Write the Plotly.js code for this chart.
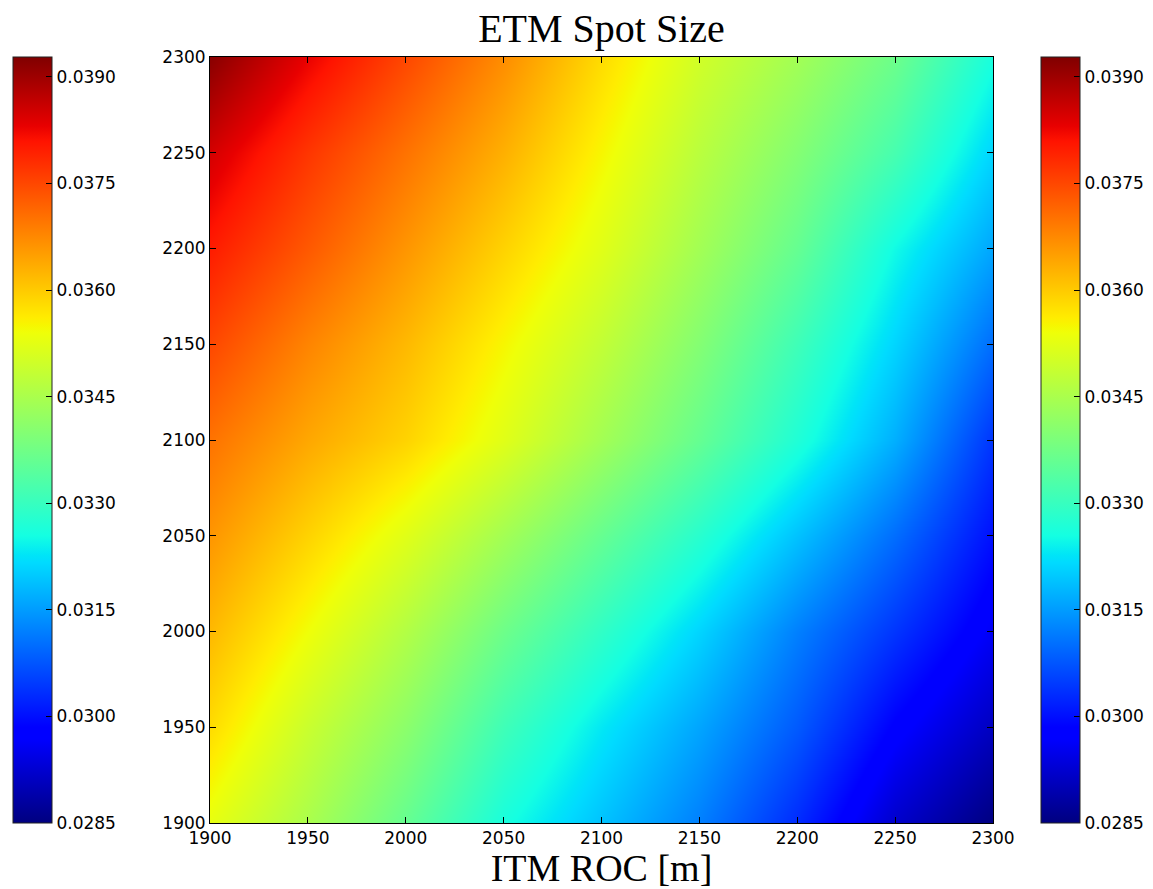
<!DOCTYPE html>
<html>
<head>
<meta charset="utf-8">
<script src="https://cdn.plot.ly/plotly-3.0.1.min.js"></script>
<style>
  html, body { margin: 0; padding: 0; background: #ffffff; }
  #chart { width: 1153px; height: 889px; }
</style>
</head>
<body>
<div id="chart"></div>
<script>
// ITM radius of curvature (x) and ETM radius of curvature (y), metres
const itmRoc = [1900, 1950, 2000, 2050, 2100, 2150, 2200, 2250, 2300];
const etmRoc = [1900, 1950, 2000, 2050, 2100, 2150, 2200, 2250, 2300];

// ETM spot size [m], one row per ETM ROC value (bottom to top), columns follow itmRoc
const spotEtm1900 = [0.0353, 0.0345, 0.0336, 0.0326, 0.0319, 0.0312, 0.0303, 0.0292, 0.0285];
const spotEtm1950 = [0.0358, 0.0349, 0.0341, 0.0331, 0.0323, 0.0316, 0.0308, 0.0298, 0.0291];
const spotEtm2000 = [0.0362, 0.0354, 0.0346, 0.0337, 0.0329, 0.0321, 0.0312, 0.0304, 0.0296];
const spotEtm2050 = [0.0366, 0.0359, 0.0352, 0.0344, 0.0336, 0.0328, 0.0319, 0.0310, 0.0300];
const spotEtm2100 = [0.0370, 0.0364, 0.0359, 0.0352, 0.0344, 0.0336, 0.0327, 0.0317, 0.0304];
const spotEtm2150 = [0.0375, 0.0368, 0.0362, 0.0355, 0.0348, 0.0340, 0.0331, 0.0321, 0.0310];
const spotEtm2200 = [0.0380, 0.0373, 0.0366, 0.0359, 0.0352, 0.0344, 0.0336, 0.0325, 0.0316];
const spotEtm2250 = [0.0385, 0.0377, 0.0370, 0.0363, 0.0355, 0.0347, 0.0340, 0.0332, 0.0321];
const spotEtm2300 = [0.0392, 0.0383, 0.0375, 0.0367, 0.0358, 0.0350, 0.0344, 0.0337, 0.0326];

// colour bar ticks and limits
const cbTicks = [0.0285, 0.0300, 0.0315, 0.0330, 0.0345, 0.0360, 0.0375, 0.0390];
const cbMin = 0.0285;
const cbMax = 0.03928;

const zGrid = [spotEtm1900, spotEtm1950, spotEtm2000, spotEtm2050, spotEtm2100,
               spotEtm2150, spotEtm2200, spotEtm2250, spotEtm2300];

// matplotlib "jet"
const jet = [
  [0.000, 'rgb(0,0,128)'],
  [0.110, 'rgb(0,0,255)'],
  [0.125, 'rgb(0,0,255)'],
  [0.340, 'rgb(0,219,255)'],
  [0.350, 'rgb(0,229,247)'],
  [0.375, 'rgb(20,255,226)'],
  [0.640, 'rgb(239,255,8)'],
  [0.650, 'rgb(247,246,0)'],
  [0.660, 'rgb(255,236,0)'],
  [0.890, 'rgb(255,19,0)'],
  [0.910, 'rgb(232,0,0)'],
  [1.000, 'rgb(128,0,0)']
];

const tickFont = { family: 'DejaVu Sans, sans-serif', size: 17, color: '#000000' };
const titleFont = { family: 'Liberation Serif, serif', size: 40, color: '#000000' };
const xTitleFont = { family: 'Liberation Serif, serif', size: 38, color: '#000000' };

function colorbarAt(xPos) {
  return {
    x: xPos, xanchor: 'left', xref: 'paper',
    y: 0.5, yanchor: 'middle', len: 1.0, lenmode: 'fraction',
    thickness: 39, thicknessmode: 'pixels',
    xpad: 0, ypad: 0,
    outlinecolor: '#222222', outlinewidth: 1,
    tickmode: 'array', tickvals: cbTicks,
    ticktext: cbTicks.map(v => v.toFixed(4)),
    ticks: 'inside', ticklen: 6, tickcolor: '#000000', tickwidth: 1,
    tickfont: tickFont
  };
}

const traceLeft = {
  type: 'heatmap', x: itmRoc, y: etmRoc, z: zGrid,
  zmin: cbMin, zmax: cbMax, colorscale: jet, zsmooth: 'best',
  showscale: true, colorbar: colorbarAt(-0.2516), hoverinfo: 'skip'
};
const traceMain = {
  type: 'heatmap', x: itmRoc, y: etmRoc, z: zGrid,
  zmin: cbMin, zmax: cbMax, colorscale: jet, zsmooth: 'best',
  showscale: true, colorbar: colorbarAt(1.0613)
};

const axisCommon = {
  showline: true, linecolor: '#000000', linewidth: 1, mirror: 'ticks',
  ticks: 'inside', ticklen: 6, tickcolor: '#000000', tickwidth: 1,
  showgrid: false, zeroline: false, dtick: 50, tick0: 1900,
  tickfont: tickFont
};

const layout = {
  width: 1153, height: 889,
  margin: { l: 210, r: 160, t: 57, b: 66, pad: 0, autoexpand: false },
  paper_bgcolor: '#ffffff', plot_bgcolor: '#ffffff',
  showlegend: false,
  title: {
    text: 'ETM Spot Size',
    font: titleFont,
    x: 0.5, xref: 'paper', xanchor: 'center',
    y: 0.968, yref: 'container', yanchor: 'middle'
  },
  xaxis: Object.assign({}, axisCommon, {
    range: [1900, 2300],
    title: { text: 'ITM ROC [m]', font: xTitleFont, standoff: 9 }
  }),
  yaxis: Object.assign({}, axisCommon, {
    range: [1900, 2300]
  })
};

Plotly.newPlot('chart', [traceLeft, traceMain], layout, { displayModeBar: false, staticPlot: true });
</script>
</body>
</html>
